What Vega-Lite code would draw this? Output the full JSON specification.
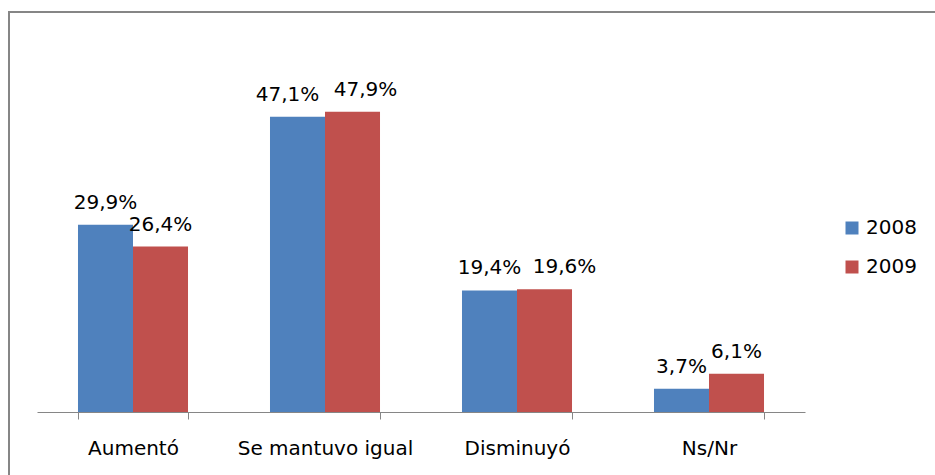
{
  "$schema": "https://vega.github.io/schema/vega-lite/v6.json",
  "width": 935,
  "height": 470,
  "padding": {"left": 9, "top": 12, "right": 0, "bottom": 0},
  "autosize": {"type": "none"},
  "background": "white",
  "config": {
    "view": {"stroke": "#868686", "strokeWidth": 2},
    "font": "DejaVu Sans",
    "locale": {"number": {"decimal": ",", "thousands": ".", "grouping": [3], "currency": ["", " €"]}}
  },
  "data": {
    "values": [
      {"categoria": "Aumentó", "anio": "2008", "valor": 0.299},
      {"categoria": "Aumentó", "anio": "2009", "valor": 0.264},
      {"categoria": "Se mantuvo igual", "anio": "2008", "valor": 0.471},
      {"categoria": "Se mantuvo igual", "anio": "2009", "valor": 0.479},
      {"categoria": "Disminuyó", "anio": "2008", "valor": 0.194},
      {"categoria": "Disminuyó", "anio": "2009", "valor": 0.196},
      {"categoria": "Ns/Nr", "anio": "2008", "valor": 0.037},
      {"categoria": "Ns/Nr", "anio": "2009", "valor": 0.061}
    ]
  },
  "encoding": {
    "x": {
      "field": "categoria",
      "type": "nominal",
      "sort": ["Aumentó", "Se mantuvo igual", "Disminuyó", "Ns/Nr"],
      "scale": {"range": [28, 796], "paddingInner": 0.427, "paddingOuter": 0.2135},
      "axis": {
        "title": null,
        "labelAngle": 0,
        "domainColor": "#868686",
        "tickColor": "#868686",
        "tickBand": "extent",
        "tickSize": 7,
        "labelFontSize": 20,
        "labelColor": "#000000",
        "labelBaseline": "alphabetic",
        "labelPadding": 35,
        "offset": -70,
        "grid": false
      }
    },
    "xOffset": {"field": "anio", "type": "nominal", "scale": {"paddingInner": 0, "paddingOuter": 0}},
    "y": {
      "field": "valor",
      "type": "quantitative",
      "scale": {"domain": [0, 0.6], "range": [400, 24]},
      "axis": null
    },
    "text": {"field": "valor", "type": "quantitative", "format": ".1%"}
  },
  "layer": [
    {
      "mark": {"type": "bar"},
      "encoding": {
        "text": null,
        "color": {
          "field": "anio",
          "type": "nominal",
          "scale": {"domain": ["2008", "2009"], "range": ["#4F81BD", "#C0504D"]},
          "legend": {
            "title": null,
            "orient": "none",
            "legendX": 833,
            "legendY": 206,
            "symbolType": "square",
            "symbolSize": 169,
            "symbolStrokeWidth": 0,
            "labelFontSize": 20,
            "labelColor": "#000000",
            "rowPadding": 19,
            "labelOffset": 4,
            "padding": 0
          }
        }
      }
    },
    {
      "transform": [{"filter": {"field": "categoria", "oneOf": ["Aumentó", "Ns/Nr", "Disminuyó"]}}, {"filter": "datum.categoria !== 'Disminuyó' || datum.anio === '2008'"}],
      "mark": {"type": "text", "dy": -16, "baseline": "alphabetic", "fontSize": 20, "color": "#000000"}
    },
    {
      "transform": [{"filter": "datum.categoria === 'Se mantuvo igual' && datum.anio === '2008'"}],
      "mark": {"type": "text", "dy": -16, "dx": -10, "baseline": "alphabetic", "fontSize": 20, "color": "#000000"}
    },
    {
      "transform": [{"filter": "datum.categoria === 'Se mantuvo igual' && datum.anio === '2009'"}],
      "mark": {"type": "text", "dy": -16, "dx": 13, "baseline": "alphabetic", "fontSize": 20, "color": "#000000"}
    },
    {
      "transform": [{"filter": "datum.categoria === 'Disminuyó' && datum.anio === '2009'"}],
      "mark": {"type": "text", "dy": -16, "dx": 20, "baseline": "alphabetic", "fontSize": 20, "color": "#000000"}
    }
  ]
}
